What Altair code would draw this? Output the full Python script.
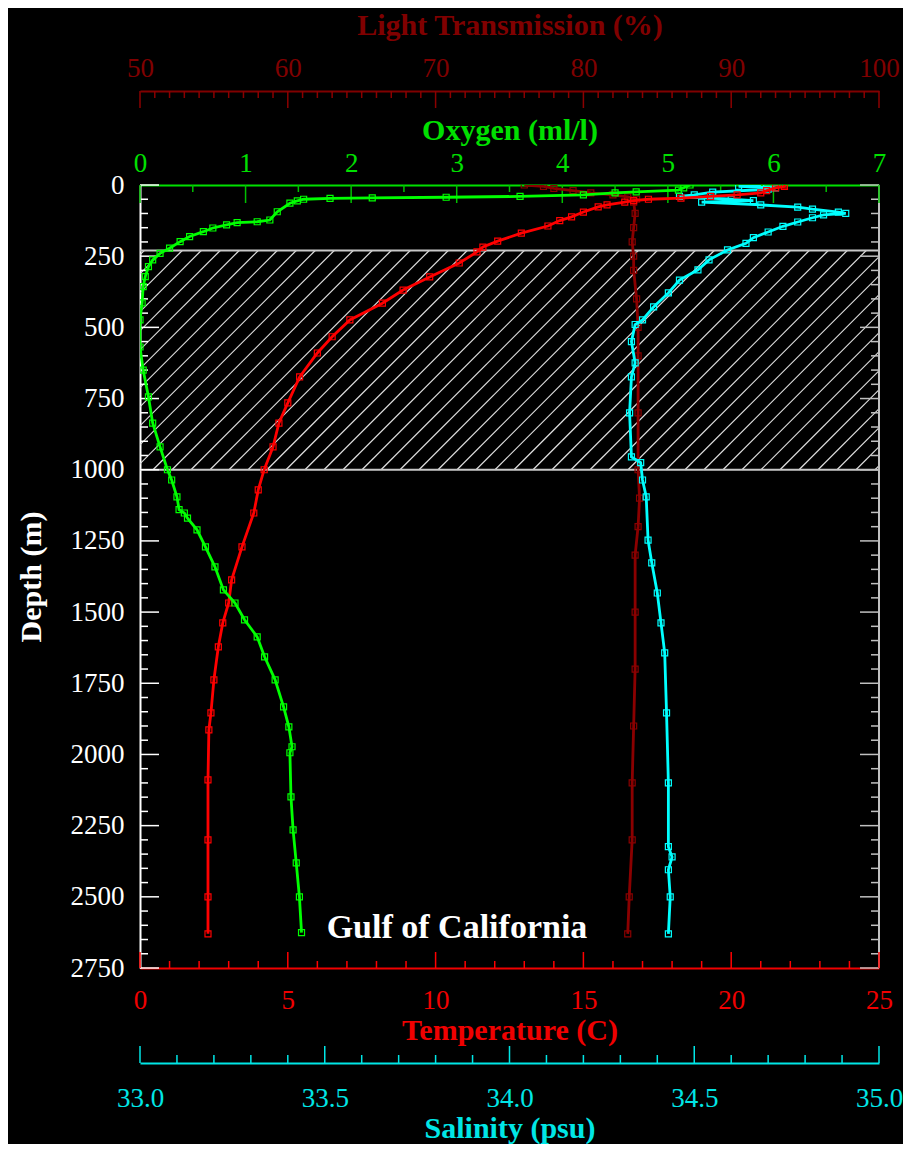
import altair as alt
import numpy as np
import pandas as pd

FONT = "Liberation Serif"
W, H = 739, 783

# ---------------- data ----------------
temp_depth = [0, 5, 10, 20, 28, 35, 40, 46, 50, 55, 60, 70, 77, 95, 112, 125, 144, 169, 197, 218,
              235, 274, 323, 369, 415, 474, 533, 590, 674, 765, 836, 920, 1000, 1071, 1152, 1271,
              1387, 1468, 1538, 1622, 1738, 1854, 1914, 2089, 2300, 2500, 2630]
temp_c = [21.8, 21.8, 21.5, 21.2, 21.0, 20.2, 19.3, 18.3, 17.2, 16.7, 16.4, 15.8, 15.5, 15.0, 14.6, 14.2, 13.8, 12.9, 12.1, 11.6,
          11.4, 10.8, 9.8, 8.9, 8.2, 7.1, 6.5, 6.0, 5.4, 5.0, 4.7, 4.5, 4.2, 4.0, 3.85, 3.45,
          3.1, 3.0, 2.8, 2.65, 2.5, 2.4, 2.33, 2.3, 2.3, 2.3, 2.3]

oxy_depth = [0, 10, 18, 24, 28, 35, 40, 43, 45, 47, 50, 56, 64, 94, 123, 129, 132, 140, 151, 164,
             181, 199, 222, 240, 263, 287, 322, 357, 414, 474, 569, 650, 744, 836, 920, 1000,
             1036, 1095, 1140, 1152, 1170, 1211, 1271, 1341, 1422, 1468, 1527, 1587, 1657, 1738,
             1833, 1903, 1973, 1994, 2149, 2265, 2381, 2500, 2626]
oxy_ml = [5.21, 5.15, 5.10, 4.70, 4.50, 4.20, 3.60, 2.90, 2.20, 1.80, 1.55, 1.49, 1.42, 1.30, 1.23, 1.11, 0.92, 0.82, 0.69, 0.60,
          0.47, 0.38, 0.28, 0.19, 0.12, 0.08, 0.05, 0.03, 0.02, 0.0, 0.0, 0.03, 0.08, 0.12, 0.19, 0.26,
          0.30, 0.35, 0.37, 0.42, 0.45, 0.54, 0.62, 0.71, 0.79, 0.90, 0.99, 1.11, 1.18, 1.28,
          1.36, 1.41, 1.44, 1.42, 1.43, 1.45, 1.48, 1.51, 1.53]

sal_depth = [0, 5, 10, 15, 25, 35, 40, 50, 55, 60, 70, 78, 85, 95, 100, 105, 115, 130, 145, 165,
             185, 205, 228, 263, 298, 334, 379, 428, 474, 490, 550, 625, 674, 800, 955, 975,
             1036, 1095, 1247, 1327, 1433, 1538, 1643, 1854, 2100, 2324, 2360, 2405, 2500, 2630]
sal_psu = [34.68, 34.62, 34.72, 34.70, 34.55, 34.50, 34.46, 34.60, 34.66, 34.52, 34.68, 34.78, 34.82, 34.89, 34.91, 34.85, 34.82, 34.78, 34.74, 34.70,
           34.66, 34.64, 34.59, 34.54, 34.51, 34.46, 34.43, 34.39, 34.36, 34.34, 34.33, 34.34, 34.33, 34.325, 34.33, 34.355,
           34.36, 34.37, 34.375, 34.385, 34.40, 34.41, 34.42, 34.425, 34.43, 34.43, 34.44, 34.43, 34.435, 34.43]

lt_depth = [0, 5, 12, 20, 28, 35, 42, 50, 60, 100, 150, 200, 250, 300, 400, 500, 600, 800, 1000,
            1100, 1200, 1300, 1500, 1700, 1900, 2100, 2300, 2500, 2630]
lt_pct = [76.0, 77.3, 78.0, 79.3, 80.5, 82.0, 83.0, 83.6, 83.4, 83.5, 83.4, 83.3, 83.4, 83.4, 83.6, 83.7, 83.7, 83.7, 83.7,
          83.8, 83.7, 83.5, 83.5, 83.5, 83.4, 83.3, 83.3, 83.1, 83.0]

# tick values / labels
depth_major = [0, 250, 500, 750, 1000, 1250, 1500, 1750, 2000, 2250, 2500, 2750]
depth_minor = [d for d in range(0, 2751, 50) if d % 250 != 0]
temp_major = [0, 5, 10, 15, 20, 25]
temp_minor = [t for t in range(0, 26) if t % 5 != 0]
oxy_major = [0, 1, 2, 3, 4, 5, 6, 7]
oxy_minor = [0.5, 1.5, 2.5, 3.5, 4.5, 5.5, 6.5]
lt_major = [50, 60, 70, 80, 90, 100]
lt_minor = [v for v in range(50, 101) if v % 10 != 0]
sal_major = [33.0, 33.5, 34.0, 34.5, 35.0]
sal_minor = [round(33 + i / 10, 1) for i in range(21) if i % 5 != 0]

band_top, band_bottom = 230, 1000
region_label = ["Gulf of California"]

TEMP_DOM, OXY_DOM, LT_DOM, SAL_DOM = [0, 25], [0, 7], [50, 100], [33, 35]
RED, GREEN, DRED, CYAN = "#ff0000", "#00ff00", "#8b0000", "#00ffff"
GREEN_T, DRED_T, CYAN_T, RED_T = "#00e000", "#800000", "#00e6e6", "#f00000"
LABEL_FS, TITLE_FS = 27, 30

ysc = alt.Scale(domain=[0, 2750], reverse=True, nice=False, zero=False)

yaxis = alt.Axis(title="Depth (m)", orient="left", values=depth_major, format="d",
                 ticks=False, grid=False,
                 domain=True, domainColor="white", domainWidth=2, labelColor="white",
                 labelFont=FONT, labelFontSize=LABEL_FS, labelPadding=16, labelBaseline="middle",
                 labelAlign="right", labelOverlap=False, labelFlush=False,
                 titleColor="white", titleFont=FONT, titleFontSize=TITLE_FS, titleFontWeight="bold",
                 titleAngle=270, titleX=-100, titleBaseline="alphabetic")


def Y(field):
    return alt.Y(field, scale=ysc, axis=yaxis, title="Depth (m)")


def xs(domain):
    return alt.Scale(domain=domain, nice=False, zero=False)


def xaxis(title, color, orient, offset, values, fmt, label_pad, title_y):
    return alt.Axis(title=title, orient=orient, offset=offset, values=values, format=fmt,
                    ticks=False, grid=False, domain=True, domainColor=color, domainWidth=2,
                    labelColor=color, labelFont=FONT, labelFontSize=LABEL_FS, labelPadding=label_pad,
                    labelBaseline="alphabetic", labelFlush=False, labelOverlap=False,
                    titleColor=color, titleFont=FONT, titleFontSize=TITLE_FS, titleFontWeight="bold",
                    titleY=title_y, titleBaseline="alphabetic")


def xticks(values, domain, color, y0, y1, axis=None, width=1.5):
    df = pd.DataFrame({"v": values})
    return alt.Chart(df).mark_rule(color=color, strokeWidth=width).encode(
        x=alt.X("v:Q", scale=xs(domain), axis=axis),
        y=alt.value(y0), y2=alt.value(y1))


def profile(depths, vals, domain, color):
    df = pd.DataFrame({"d": depths, "v": vals})
    base = alt.Chart(df)
    enc = dict(x=alt.X("v:Q", scale=xs(domain), axis=None), y=Y("d:Q"))
    line = base.mark_line(color=color, strokeWidth=2.8, clip=True).encode(order="d:Q", **enc)
    pts = base.mark_point(shape="square", filled=False, color=color, size=36,
                          strokeWidth=1.2, opacity=1, clip=True).encode(**enc)
    return [line, pts]


# ---------------- hatched band ----------------
band_px = (band_bottom - band_top) * H / 2750.0
dx = band_px * (TEMP_DOM[1] - TEMP_DOM[0]) / W
step = 19.0 * (TEMP_DOM[1] - TEMP_DOM[0]) / W
starts = np.arange(0.44 - np.ceil((dx + 0.44) / step) * step, TEMP_DOM[1], step)
hatch_df = pd.DataFrame({"x0": starts, "x1": starts + dx, "d0": band_bottom, "d1": band_top})
hatch = alt.Chart(hatch_df).mark_rule(color="#e0e0e0", strokeWidth=1.2, clip=True).encode(
    x=alt.X("x0:Q", scale=xs(TEMP_DOM), axis=None), x2="x1:Q",
    y=Y("d0:Q"), y2="d1:Q")
band_lines = alt.Chart(pd.DataFrame({"d": [band_top, band_bottom]})).mark_rule(
    color="#c8c8c8", strokeWidth=2).encode(y=Y("d:Q"), x=alt.value(0), x2=alt.value(W))

# ---------------- axes ----------------
LT_OFF, SAL_OFF = 94, 95
oxy_axis = xaxis("Oxygen (ml/l)", GREEN_T, "top", 0, oxy_major, "d", 14, -46)
lt_axis = xaxis("Light Transmission (%)", DRED_T, "top", LT_OFF, lt_major, "d", 15, -57)
temp_axis = xaxis("Temperature (C)", RED_T, "bottom", 0, temp_major, "d", 40, 71)
sal_axis = xaxis("Salinity (psu)", CYAN_T, "bottom", SAL_OFF, sal_major, ".1f", 43, 74)

tick_layers = [
    xticks(oxy_major, OXY_DOM, "#00c000", 0, 18, axis=oxy_axis),
    xticks(oxy_minor, OXY_DOM, "#00c000", 0, 7),
    xticks(lt_major, LT_DOM, DRED, -LT_OFF, -LT_OFF + 17, axis=lt_axis),
    xticks(lt_minor, LT_DOM, DRED, -LT_OFF, -LT_OFF + 7),
    xticks(temp_major, TEMP_DOM, RED, H, H - 16, axis=temp_axis),
    xticks(temp_minor, TEMP_DOM, RED, H, H - 7),
    xticks(sal_major, SAL_DOM, CYAN_T, H + SAL_OFF, H + SAL_OFF - 17, axis=sal_axis),
    xticks(sal_minor, SAL_DOM, CYAN_T, H + SAL_OFF, H + SAL_OFF - 8),
]

dmaj = pd.DataFrame({"d": depth_major})
dmin = pd.DataFrame({"d": depth_minor})
ytick_layers = [
    alt.Chart(dmaj).mark_rule(color="white", strokeWidth=1.5).encode(
        y=Y("d:Q"), x=alt.value(0), x2=alt.value(19)),
    alt.Chart(dmin).mark_rule(color="white", strokeWidth=1.5).encode(
        y=Y("d:Q"), x=alt.value(0), x2=alt.value(8)),
    alt.Chart(dmaj).mark_rule(color="#c0c0c0", strokeWidth=1.5).encode(
        y=Y("d:Q"), x=alt.value(W), x2=alt.value(W - 19)),
    alt.Chart(dmin).mark_rule(color="#c0c0c0", strokeWidth=1.5).encode(
        y=Y("d:Q"), x=alt.value(W), x2=alt.value(W - 8)),
    alt.Chart(pd.DataFrame({"d": [0], "e": [2750]})).mark_rule(color="#c0c0c0", strokeWidth=2).encode(
        y=Y("d:Q"), y2="e:Q", x=alt.value(W)),
]

label = alt.Chart(pd.DataFrame({"t": region_label})).mark_text(
    font=FONT, fontSize=34, fontWeight="bold", color="white", align="center", baseline="middle"
).encode(text="t:N", x=alt.value(317), y=alt.value(743))

layers = [hatch, band_lines] + ytick_layers + tick_layers
layers += profile(lt_depth, lt_pct, LT_DOM, DRED)
layers += profile(sal_depth, sal_psu, SAL_DOM, CYAN)
layers += profile(temp_depth, temp_c, TEMP_DOM, RED)
layers += profile(oxy_depth, oxy_ml, OXY_DOM, GREEN)
layers += [label]

chart = alt.layer(*layers).resolve_scale(x="independent", y="shared").resolve_axis(y="shared").properties(
    width=W, height=H,
    autosize=alt.AutoSizeParams(type="none"),
    padding={"left": 132, "top": 177, "right": 24, "bottom": 176},
).configure(background="black").configure_view(stroke=None)

chart.save("out.html", embed_options={"renderer": "svg", "actions": False})
